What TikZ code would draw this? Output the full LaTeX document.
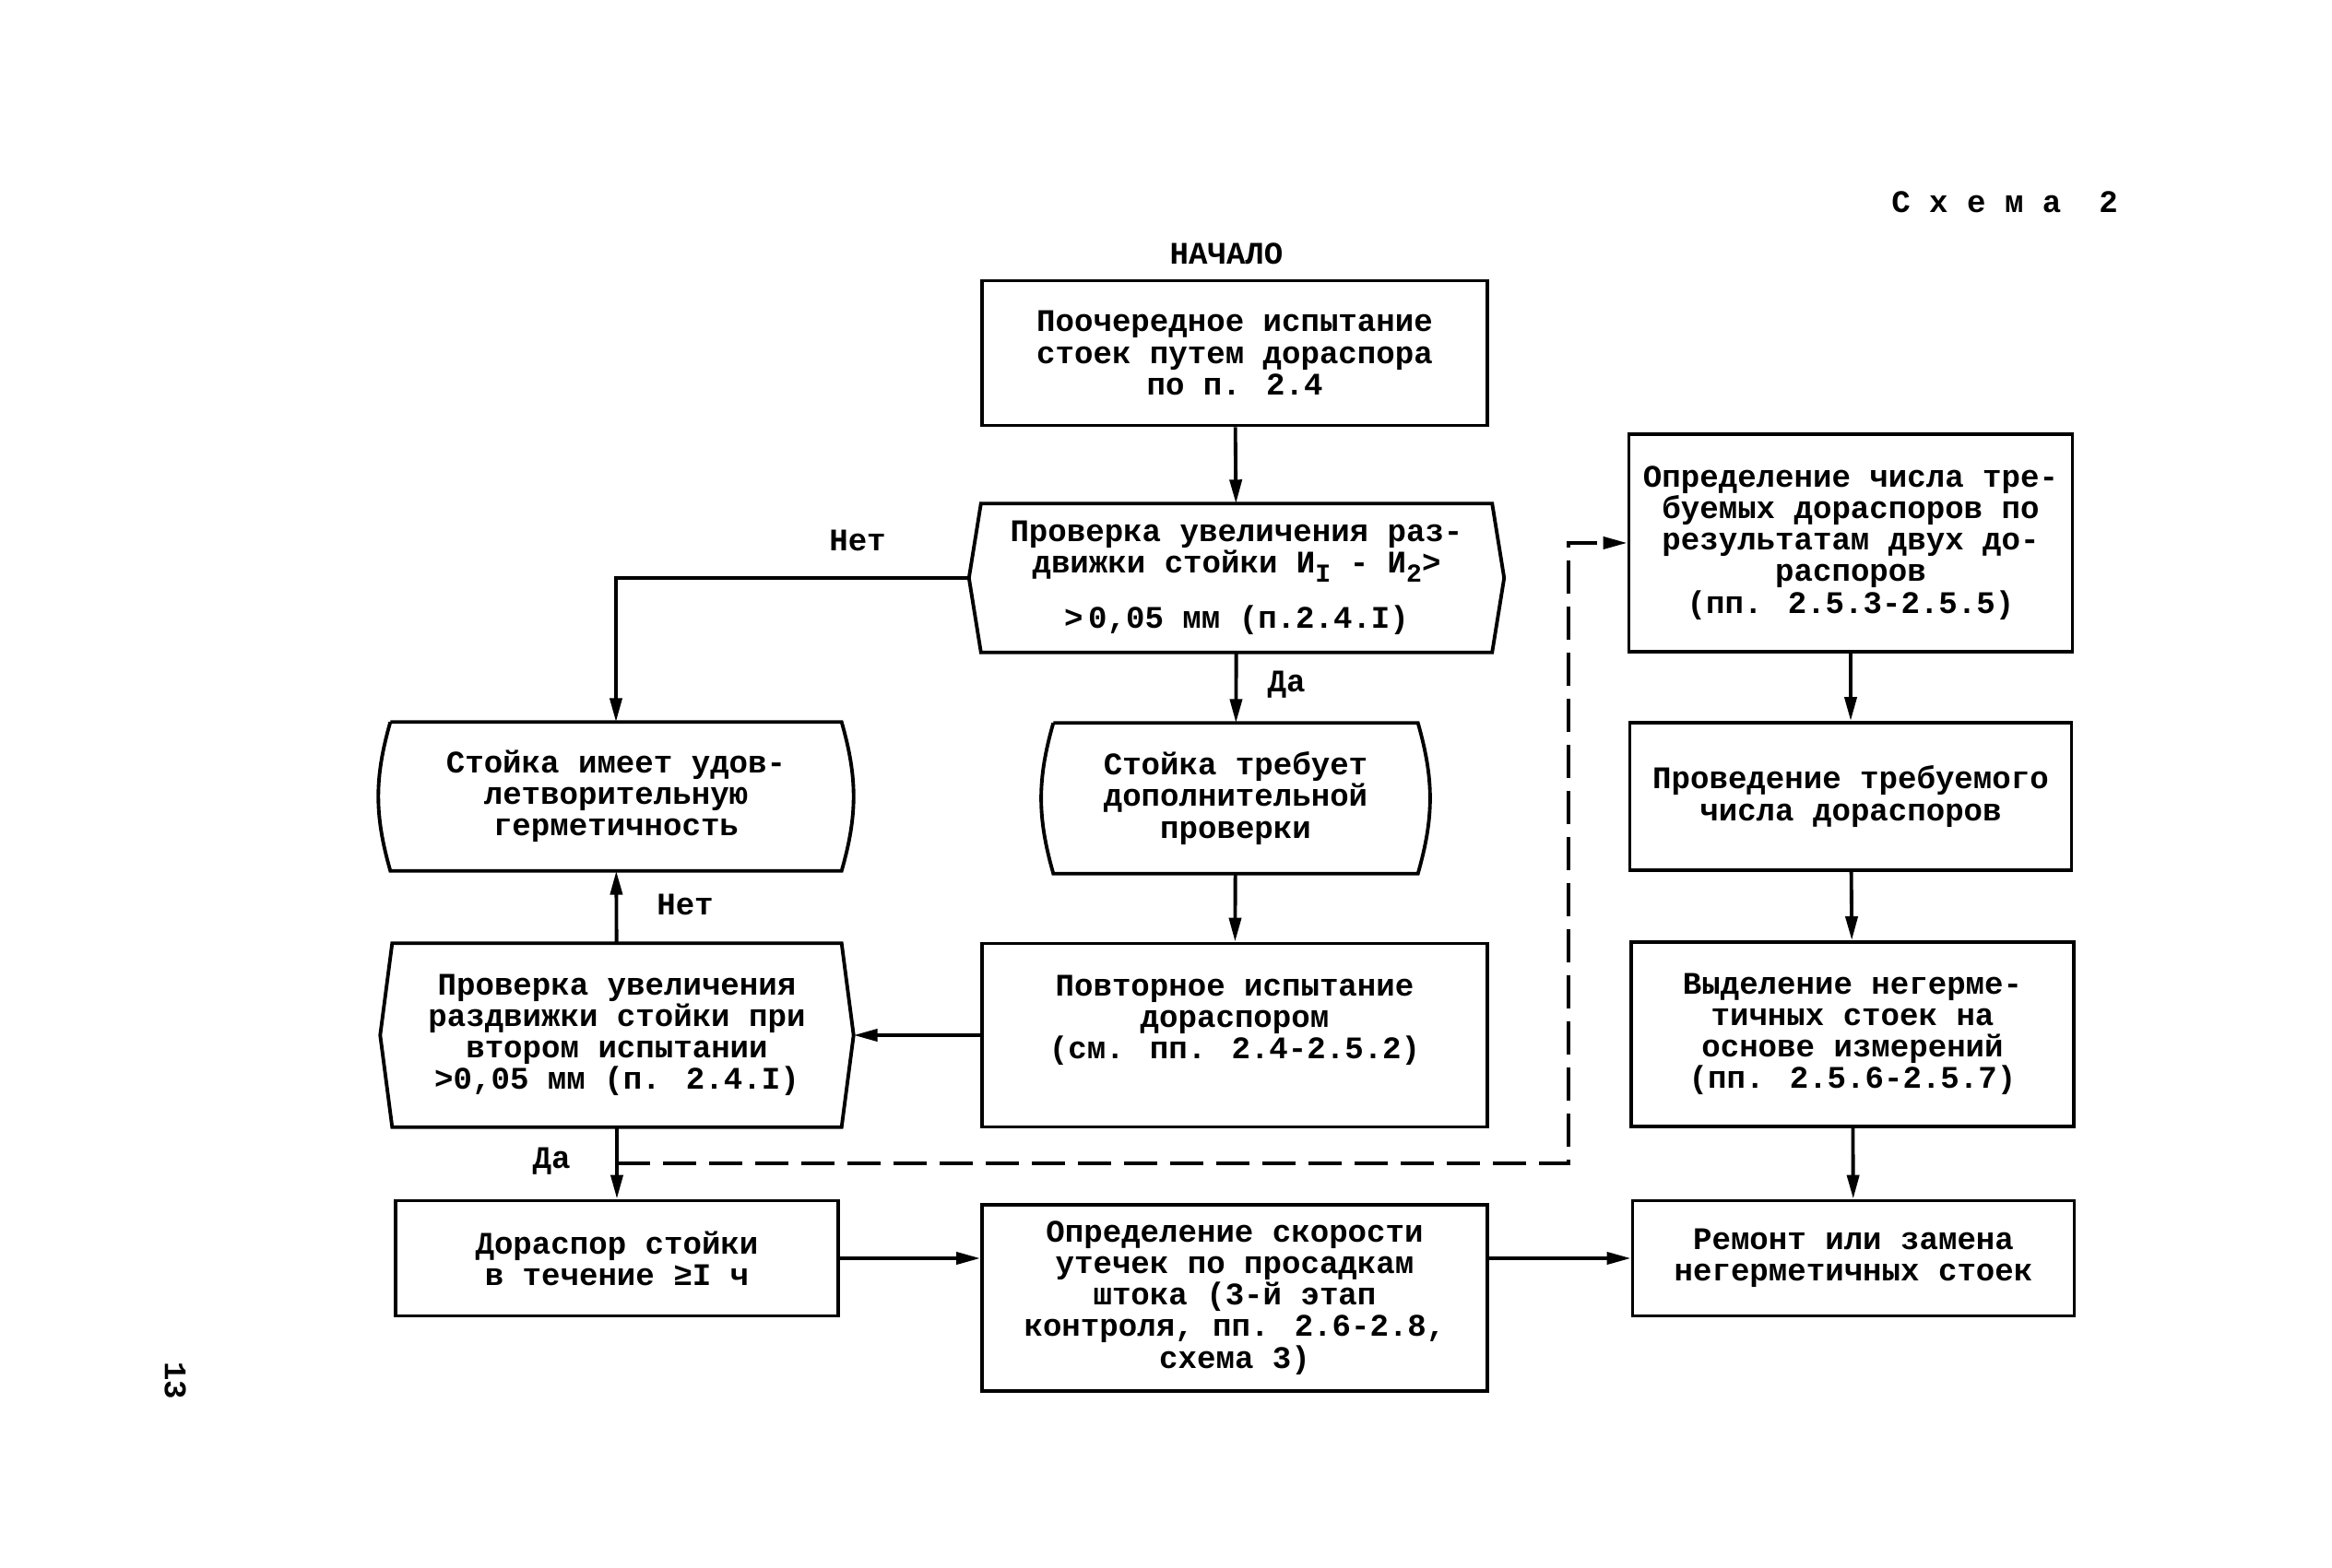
\documentclass[tikz,border=0pt]{standalone}
\usepackage{fontspec}
\setmainfont{Liberation Mono}
\usepackage{tikz}
\usetikzlibrary{calc,arrows.meta}
\tikzset{
  line/.style={draw=black, line width=1.1pt},
  arr/.style={-{Triangle[length=2.6mm,width=1.3mm]}},
  dashedline/.style={draw=black, line width=1.1pt, dash pattern=on 3.6mm off 1.4mm},
  box/.style={line, rectangle, align=center, inner sep=2pt},
  plain/.style={rectangle, align=center, inner sep=2pt},
  lbl/.style={font=\fontsize{9.7}{9.7}\selectfont\bfseries}
}
\newcommand{\sub}[1]{\raisebox{-0.55ex}{\fontsize{8}{8}\selectfont #1}}

\begin{document}
\begin{tikzpicture}[font=\fontsize{9.7}{9.7}\selectfont\bfseries]
  \useasboundingbox (0,0) rectangle (25.29,17);

  \node[lbl] (title) at (21.74,14.81) {С~х~е~м~а~~2};
  \node[lbl] (begin) at (13.30,14.25) {НАЧАЛО};
  \node[lbl, rotate=-90] (page) at (1.90,2.02) {13};

  % middle column
  \node[box, minimum width=5.48cm, minimum height=1.57cm] (start) at (13.39,13.17)
    {Поочередное испытание\\стоек путем дораспора\\по п. 2.4};
  \node[plain, minimum width=5.53cm, minimum height=1.60cm] (check1) at (13.41,10.73)
    {Проверка увеличения раз-\\движки стойки И\sub{I} - И\sub{2}>\\[1.2ex]>\,0,05 мм (п.2.4.I)};
  \node[plain, minimum width=3.94cm, minimum height=1.62cm] (extra) at (13.40,8.34)
    {Стойка требует\\дополнительной\\проверки};
  \node[box, minimum width=5.48cm, minimum height=1.99cm] (retest) at (13.39,5.77)
    {Повторное испытание\\дораспором\\(см. пп. 2.4-2.5.2)\\[0.3ex]\mbox{}};
  \node[box, minimum width=5.48cm, minimum height=2.02cm] (rate) at (13.39,2.92)
    {Определение скорости\\утечек по просадкам\\штока (3-й этап\\контроля, пп. 2.6-2.8,\\схема 3)};

  % left column
  \node[plain, minimum width=4.88cm, minimum height=1.60cm] (ok) at (6.68,8.36)
    {Стойка имеет удов-\\летворительную\\герметичность};
  \node[plain, minimum width=4.86cm, minimum height=1.98cm] (check2) at (6.69,5.77)
    {Проверка увеличения\\раздвижки стойки при\\втором испытании\\>0,05 мм (п. 2.4.I)};
  \node[box, minimum width=4.80cm, minimum height=1.25cm] (hold) at (6.69,3.35)
    {Дораспор стойки\\в течение ≥I ч};

  % right column
  \node[box, minimum width=4.81cm, minimum height=2.36cm] (count) at (20.07,11.11)
    {Определение числа тре-\\буемых дораспоров по\\результатам двух до-\\распоров\\(пп. 2.5.3-2.5.5)};
  \node[box, minimum width=4.79cm, minimum height=1.60cm] (redo) at (20.07,8.36)
    {Проведение требуемого\\числа дораспоров};
  \node[box, minimum width=4.80cm, minimum height=2.00cm] (select) at (20.09,5.78)
    {Выделение негерме-\\тичных стоек на\\основе измерений\\(пп. 2.5.6-2.5.7)};
  \node[box, minimum width=4.79cm, minimum height=1.25cm] (repair) at (20.10,3.35)
    {Ремонт или замена\\негерметичных стоек};

  % decision outlines
  \draw[line] (check1.north west) -- (check1.north east) -- ([xshift=1.3mm]check1.east)
    -- (check1.south east) -- (check1.south west) -- ([xshift=-1.3mm]check1.west) -- cycle;
  \draw[line] (check2.north west) -- (check2.north east) -- ([xshift=1.3mm]check2.east)
    -- (check2.south east) -- (check2.south west) -- ([xshift=-1.3mm]check2.west) -- cycle;
  \draw[line] (ok.north west) -- (ok.north east) to[bend left=16] (ok.south east)
    -- (ok.south west) to[bend left=16] (ok.north west);
  \draw[line] (extra.north west) -- (extra.north east) to[bend left=16] (extra.south east)
    -- (extra.south west) to[bend left=16] (extra.north west);

  % connectors
  \draw[line, arr] (start) -- (check1);
  \draw[line, arr] ([xshift=-1.3mm]check1.west) -| (ok.north);
  \node[lbl] (no1) at (9.30,11.14) {Нет};
  \draw[line, arr] (check1) -- (extra);
  \node[lbl] (yes1) at (13.95,9.57) {Да};
  \draw[line, arr] (extra) -- (retest);
  \draw[line, arr] (retest.west) -- ([xshift=1.3mm]check2.east);
  \draw[line, arr] (check2) -- (ok);
  \node[lbl] (no2) at (7.43,7.19) {Нет};
  \draw[line, arr] (check2) -- (hold);
  \node[lbl] (yes2) at (5.98,4.40) {Да};
  \coordinate (split) at ($(check2.south)!0.5!(hold.north)$);
  \coordinate (turn) at (17.01,4.34);
  \draw[dashedline, arr] (split) -- (split -| turn) |- (count.west);
  \draw[line, arr] (hold.east) -- (hold.east -| rate.west);
  \draw[line, arr] (rate.east |- repair.west) -- (repair.west);
  \draw[line, arr] (count) -- (redo);
  \draw[line, arr] (redo) -- (select);
  \draw[line, arr] (select) -- (repair);
\end{tikzpicture}
\end{document}
